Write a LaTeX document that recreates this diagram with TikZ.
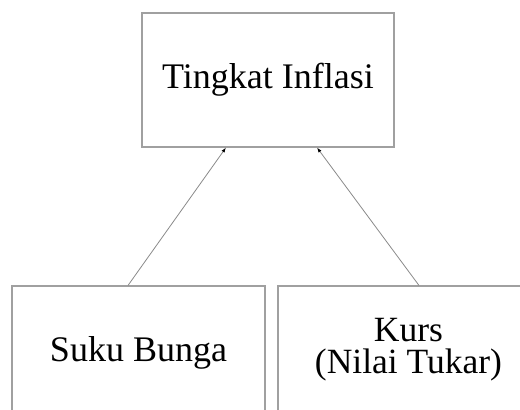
\documentclass[tikz,border=0pt]{standalone}
\usepackage{fontspec}
\setmainfont{Liberation Serif}
\usetikzlibrary{arrows.meta,calc}
\definecolor{boxgray}{HTML}{A0A0A0}
\definecolor{linegray}{HTML}{8A8A8A}
\tikzset{
  box/.style={draw=boxgray, line width=1.1pt, inner sep=0pt, align=center,
    font=\fontsize{36}{30}\selectfont, text=black},
  lbl/.style={font=\fontsize{35.5}{30}\selectfont, inner sep=0pt, anchor=base, text=black},
  conn/.style={draw=linegray, line width=0.8pt, -{Latex[length=5pt,width=3.5pt,black]}}
}
\begin{document}
\begin{tikzpicture}[x=1pt,y=-1pt]
\useasboundingbox (0,0) rectangle (520,410);
\clip (0,0) rectangle (520,410);
\node[box, minimum width=252pt, minimum height=134pt] (t) at (268,80) {Tingkat Inflasi};
\node[box, minimum width=253pt, minimum height=134pt] (l) at (138.5,353) {Suku Bunga};
\node[box, minimum width=262pt, minimum height=134pt] (r) at (409,353) {};
\node[lbl] (r1) at (408.5,341.5) {Kurs};
\node[lbl] (r2) at (408.5,373) {(Nilai Tukar)};
\draw[conn] ($(l.north)+(-10.5,0)$) -- ($(t.south)+(-42,0)$);
\draw[conn] ($(r.north)+(10,0)$) -- ($(t.south)+(49,0)$);
\end{tikzpicture}
\end{document}
